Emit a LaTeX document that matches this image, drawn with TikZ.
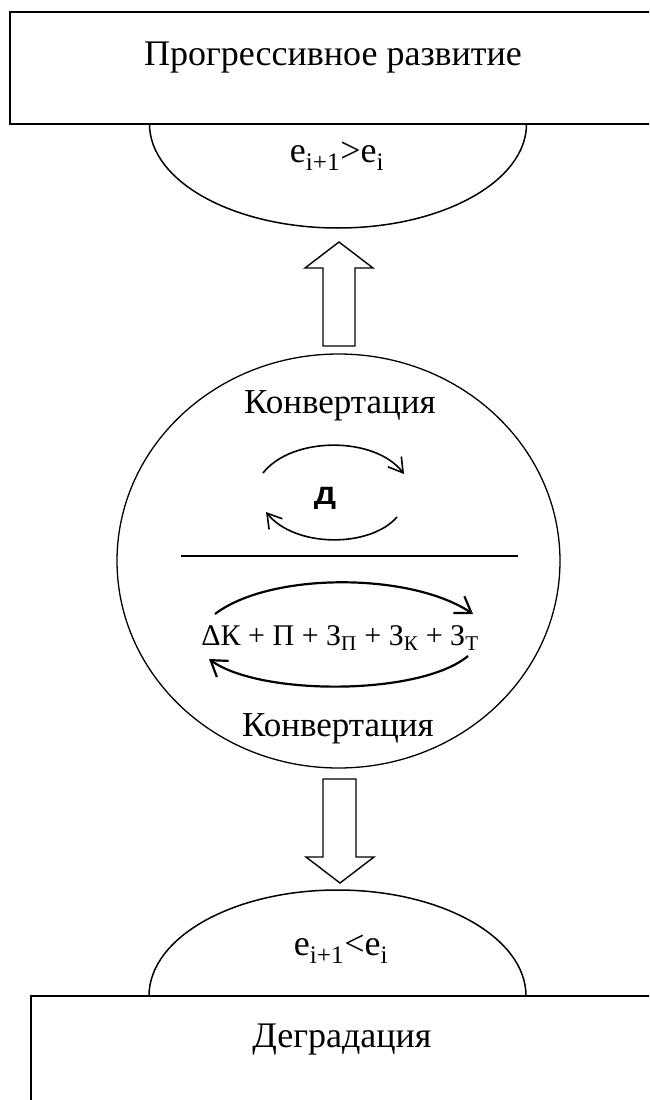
\documentclass[tikz,border=0pt]{standalone}
\usepackage{fontspec}
\setmainfont{Liberation Serif}
\newfontfamily\sansfam{Liberation Sans}
\usetikzlibrary{arrows.meta}
\tikzset{
  frame/.style={draw=black, line width=1.5pt},
  shapeline/.style={draw=black, line width=1.5pt},
  blockarrow/.style={draw=black, line width=1.4pt, fill=white, line join=miter},
  thinarc/.style={draw=black, line width=1.6pt, -{Straight Barb[length=14pt,width=17pt,line width=1.6pt]}},
  thickarc/.style={draw=black, line width=2.2pt, -{Straight Barb[length=15pt,width=20pt,line width=2.2pt]}},
  bigtext/.style={font=\fontsize{36}{40}\selectfont, inner sep=0pt, anchor=base},
  midtext/.style={font=\fontsize{35}{40}\selectfont, inner sep=0pt, anchor=base},
  formtext/.style={font=\fontsize{30}{34}\selectfont, inner sep=0pt, anchor=base},
}
\begin{document}
\begin{tikzpicture}[x=1pt,y=-1pt]
\useasboundingbox (0,0) rectangle (649,1100);
\clip (0,0) rectangle (649,1100);
\fill[white] (0,0) rectangle (649,1100);

% top box and half ellipse
\draw[frame] (10,12) rectangle (700,124);
\node[bigtext] (prog) at (333,65) {Прогрессивное развитие};
\draw[shapeline] (526.5,124) arc[start angle=0, end angle=180, x radius=188.5, y radius=104];
\node[bigtext] (etop) at (337,162) {e\textsubscript{i+1}>e\textsubscript{i}};

% up block arrow
\draw[blockarrow] (323,346) -- (323,268) -- (305,268) -- (339,242) -- (373,268) -- (355,268) -- (355,346) -- cycle;

% central circle
\draw[line width=1.3pt] (338.5,561) ellipse[x radius=221.5, y radius=207];
\node[midtext] (konv1) at (340,413) {Конвертация};
\node[font=\sansfam\bfseries\fontsize{25}{27}\selectfont, inner sep=0pt, anchor=base] (d) at (325,504) {\scalebox{1.25}[1]{Д}};
\coordinate (a1s) at (263,473);
\coordinate (a1e) at (404,474);
\coordinate (a2s) at (397,517);
\coordinate (a2e) at (266,512);
\draw[thinarc] (a1s) .. controls (292,436) and (375,436) .. (a1e);
\draw[thinarc] (a2s) .. controls (370,548) and (295,548) .. (a2e);
\coordinate (ls) at (181,556);
\coordinate (le) at (518,556);
\draw[line width=1.3pt] (ls) -- (le);
\coordinate (b1s) at (215,614);
\coordinate (b1e) at (473,614);
\coordinate (b2s) at (468,656);
\coordinate (b2e) at (209,659);
\draw[thickarc] (b1s) .. controls (270,572) and (410,572) .. (b1e);
\draw[thickarc] (b2s) .. controls (420,696) and (260,696) .. (b2e);
\node[formtext] (form) at (340,645) {ΔК + П + З\textsubscript{П} + З\textsubscript{К} + З\textsubscript{Т}};
\node[midtext] (konv2) at (338,736) {Конвертация};

% down block arrow
\draw[blockarrow] (323,779) -- (323,857) -- (306,857) -- (340,883) -- (374,857) -- (356,857) -- (356,779) -- cycle;

% bottom half ellipse and box
\draw[shapeline] (149,996) arc[start angle=180, end angle=360, x radius=188.5, y radius=106];
\node[bigtext] (ebot) at (341,955) {e\textsubscript{i+1}<e\textsubscript{i}};
\draw[frame] (31,996) rectangle (700,1150);
\node[bigtext] (degr) at (342,1047) {Деградация};
\end{tikzpicture}
\end{document}
